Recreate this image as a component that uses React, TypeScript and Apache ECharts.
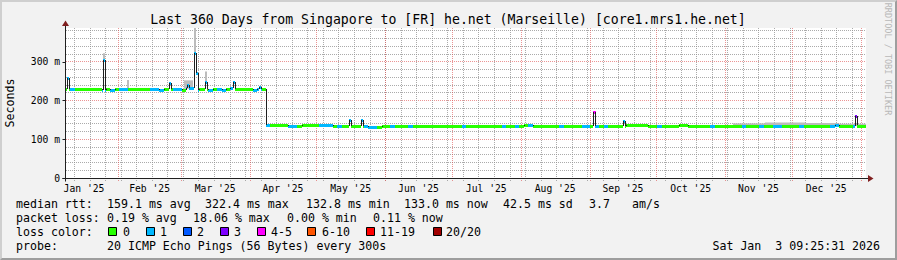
import React, { useEffect, useRef } from 'react';
import * as echarts from 'echarts';

// ---- time frame (days since 2025-01-01 00:00) ----
const START_DAY = 7.39;
const END_DAY = 367.39;
const STEP_DAYS = 2;
const Y_MAX = 387;
const SPIKE_W = 0.9;

// ---- median rtt (ms), one value per 2-day step ----
const medianMs = [
  230, 229, 230, 230, 230, 230, 230, 230, 226, 230,
  228, 230, 230, 230, 230, 230, 230, 230, 230, 230,
  230, 226, 230, 230, 230, 230, 228, 232, 232, 226,
  230, 230, 228, 230, 230, 226, 230, 232, 230, 230,
  230, 230, 226, 230, 230, 136, 137, 137, 137, 137,
  134, 134, 134, 136, 136, 138, 138, 138, 138, 138,
  135, 133, 134, 134, 134, 134, 134, 134, 132, 132,
  132, 134, 134, 134, 134, 134, 134, 134, 133, 133,
  133, 135, 135, 135, 135, 135, 135, 135, 135, 133,
  134, 133, 134, 133, 134, 134, 134, 134, 134, 134,
  134, 134, 135, 136, 136, 134, 134, 134, 134, 134,
  134, 134, 134, 134, 134, 134, 134, 134, 134, 134,
  134, 133, 133, 133, 133, 134, 136, 136, 136, 136,
  136, 135, 134, 133, 133, 133, 133, 134, 138, 137,
  134, 133, 133, 133, 134, 133, 133, 133, 133, 134,
  134, 134, 134, 134, 133, 134, 134, 134, 134, 134,
  134, 134, 133, 134, 134, 134, 134, 133, 134, 135,
  134, 134, 134, 136, 134, 134, 134, 133, 133, 133,
];

// ---- packet loss class per step (0 = 0 lost, 1 = 1 lost, ...) ----
const lossClass = [
  0, 1, 0, 0, 0, 0, 0, 0, 1, 0,
  1, 0, 1, 1, 0, 0, 0, 0, 0, 1,
  1, 1, 0, 0, 1, 1, 0, 1, 1, 1,
  0, 0, 1, 0, 1, 1, 0, 1, 0, 0,
  0, 0, 1, 1, 0, 1, 0, 0, 0, 0,
  1, 1, 0, 0, 0, 0, 0, 1, 1, 1,
  0, 1, 0, 0, 0, 0, 0, 1, 1, 1,
  0, 0, 0, 1, 0, 0, 0, 1, 0, 0,
  0, 0, 0, 0, 0, 0, 0, 0, 0, 1,
  0, 0, 0, 0, 0, 0, 0, 0, 1, 0,
  0, 1, 0, 0, 1, 0, 0, 0, 0, 0,
  0, 1, 0, 0, 0, 0, 1, 1, 0, 1,
  0, 1, 0, 0, 0, 0, 0, 0, 0, 0,
  0, 0, 0, 1, 0, 0, 0, 0, 0, 0,
  0, 0, 0, 0, 0, 1, 0, 0, 0, 0,
  0, 0, 1, 0, 0, 0, 1, 0, 0, 1,
  1, 0, 0, 0, 0, 1, 0, 0, 0, 0,
  0, 0, 1, 1, 0, 0, 0, 1, 0, 0,
];

// ---- short median spikes ----
const spikeDays = [8.5, 24.4, 54.2, 62.2, 65.6, 66.5, 70.2, 82.8, 94.7, 135.0, 140.6, 245.2, 258.7, 362.9];
const spikeMs = [257, 305, 244, 240, 322.4, 272, 248, 247, 236, 150, 150, 170, 146, 161];
const spikeLoss = [1, 1, 1, 1, 1, 1, 1, 1, 1, 1, 1, 4, 1, 3];

// ---- smoke (ping spread) blocks ----
const smokeFrom = [23.95, 34.7, 60.5, 65.15, 69.75, 307.6, 322, 340, 355];
const smokeTo = [24.85, 35.7, 64.5, 66.05, 70.65, 322, 340, 355, 367.39];
const smokeLow = [305, 230, 230, 322, 248, 134, 134, 134, 134];
const smokeHigh = [322, 253, 252, 387, 275, 141, 143, 142, 140];

// ---- axes ----
const monthStarts = [0, 31, 59, 90, 120, 151, 181, 212, 243, 273, 304, 334, 365];
const monthLabels = ["Jan '25", "Feb '25", "Mar '25", "Apr '25", "May '25", "Jun '25", "Jul '25", "Aug '25", "Sep '25", "Oct '25", "Nov '25", "Dec '25"];
const firstWeekDay = 11; // Sunday 2025-01-12
const yTicks = [0, 100, 200, 300];

// ---- legend texts ----
const lossLegend = ['0', '1', '2', '3', '4-5', '6-10', '11-19', '20/20'];
const titleText = 'Last 360 Days from Singapore to [FR] he.net (Marseille) [core1.mrs1.he.net]';
const rttLine = ['median rtt:', '159.1 ms avg', '322.4 ms max', '132.8 ms min', '133.0 ms now', '42.5 ms sd', '3.7', 'am/s'];
const lossLine = ['packet loss:', '0.19 % avg', '18.06 % max', '0.00 % min', '0.11 % now'];
const probeLine = ['probe:', '20 ICMP Echo Pings (56 Bytes) every 300s'];
const dateText = 'Sat Jan  3 09:25:31 2026';

// ---- styles ----
const LOSS_COLORS = ['#26ff00', '#00b8ff', '#0059ff', '#7e00ff', '#ff00ff', '#ff5500', '#ff0000', '#a10000'];
const MONO = '"DejaVu Sans Mono", monospace';
const AXIS = '#1f1f1f';
const ARROW = '#801f1f';
const GRID = 'rgba(143,143,143,0.75)';
const MGRID = 'rgba(222,79,79,0.6)';
const SMOKE = '#bcbcbc';

const rttX = [16, 107, 205, 306, 404, 503, 589, 632];
const lossX = [16, 107, 193, 287, 373];
const probeX = [16, 107];
const boxX = [108, 146, 183, 220, 257, 307, 366, 433];
const boxLabelX = [123, 160, 197, 234, 271, 322, 380, 446];

function buildPieces(): number[][] {
  const sp = spikeDays.map((d, k) => ({ s: d - SPIKE_W / 2, e: d + SPIKE_W / 2, v: spikeMs[k], l: spikeLoss[k] }));
  const raw: number[][] = [];
  medianMs.forEach((v, i) => {
    const s0 = START_DAY + i * STEP_DAYS;
    const e0 = Math.min(s0 + STEP_DAYS, END_DAY);
    let cur = s0;
    for (const p of sp) {
      if (p.e <= s0 || p.s >= e0) continue;
      const a = Math.max(p.s, s0);
      const b = Math.min(p.e, e0);
      if (a > cur) raw.push([cur, a, v, lossClass[i]]);
      raw.push([a, b, p.v, p.l]);
      cur = Math.max(cur, b);
    }
    if (cur < e0) raw.push([cur, e0, v, lossClass[i]]);
  });
  return raw.map((r, k) => [r[0], r[1], r[2], r[3], k > 0 ? raw[k - 1][2] : r[2]]);
}

function txt(text: string, x: number, y: number, size: number, align = 'left', color = '#000', rotation = 0) {
  return {
    type: 'text',
    x,
    y,
    rotation,
    silent: true,
    style: {
      text,
      fill: color,
      font: `${size}px ${MONO}`,
      textAlign: align,
      textVerticalAlign: 'middle',
      align,
      verticalAlign: 'middle',
    },
  };
}

function buildOption() {
  const pieces = buildPieces();
  const gridLines: number[][] = [];
  for (let d = firstWeekDay; d < END_DAY; d += 7) gridLines.push([d, 0, 0]);
  monthStarts.forEach((d) => {
    if (d > START_DAY && d < END_DAY) gridLines.push([d, 0, 1]);
  });
  const monthMids = monthLabels.map((_, i) => [(monthStarts[i] + monthStarts[i + 1]) / 2, 0, i]);
  const smoke = smokeFrom.map((f, i) => [f, smokeTo[i], smokeLow[i], smokeHigh[i]]);

  const graphic: any[] = [];
  graphic.push(txt(titleText, 448, 19, 13.2, 'center'));
  graphic.push(txt('Seconds', 10, 103, 11.6, 'center', '#000', Math.PI / 2));
  graphic.push(txt('RRDTOOL / TOBI OETIKER', 887.5, 59, 8.5, 'center', '#b8b8b8', -Math.PI / 2));
  rttLine.forEach((t, i) => graphic.push(txt(t, rttX[i], 204, 11.6)));
  lossLine.forEach((t, i) => graphic.push(txt(t, lossX[i], 218, 11.6)));
  graphic.push(txt('loss color:', 16, 232, 11.6));
  lossLegend.forEach((t, i) => {
    graphic.push({
      type: 'rect',
      silent: true,
      shape: { x: boxX[i] + 0.5, y: 227.5, width: 8, height: 8 },
      style: { fill: LOSS_COLORS[i], stroke: '#000', lineWidth: 1 },
    });
    graphic.push(txt(t, boxLabelX[i], 232, 11.6));
  });
  probeLine.forEach((t, i) => graphic.push(txt(t, probeX[i], 246, 11.6)));
  graphic.push(txt(dateText, 880, 246, 11.6, 'right'));

  return {
    animation: false,
    backgroundColor: '#f2f2f2',
    grid: { left: 66, right: 31, top: 28, bottom: 82, show: true, backgroundColor: '#ffffff', borderWidth: 0 },
    xAxis: {
      type: 'value',
      min: START_DAY,
      max: END_DAY,
      axisLine: { show: false },
      axisTick: { show: false },
      axisLabel: { show: false },
      splitLine: { show: false },
    },
    yAxis: {
      type: 'value',
      min: 0,
      max: Y_MAX,
      interval: 100,
      axisLine: { show: false },
      axisTick: { show: false },
      axisLabel: {
        formatter: (v: number) => (v === 0 ? '0' : `${v} m`),
        fontFamily: MONO,
        fontSize: 9.7,
        color: '#000',
        margin: 6,
        showMaxLabel: false,
      },
      splitLine: { show: true, showMinLine: false, showMaxLine: false, lineStyle: { color: MGRID, type: [1, 1], width: 1 } },
      minorTick: { show: false, splitNumber: 5 },
      minorSplitLine: { show: true, lineStyle: { color: GRID, type: [1, 1], width: 1 } },
    },
    graphic,
    series: [
      {
        type: 'custom',
        name: 'grid',
        silent: true,
        clip: false,
        data: gridLines,
        encode: { x: 0, y: 1 },
        renderItem: (_p: any, api: any) => {
          const d = api.value(0);
          const kind = api.value(2);
          const top = api.coord([d, Y_MAX]);
          const bot = api.coord([d, 0]);
          const x = Math.round(top[0]) + 0.5;
          return {
            type: 'line',
            shape: { x1: x, y1: top[1], x2: x, y2: bot[1] + 3 },
            style: { stroke: kind ? MGRID : GRID, lineWidth: 1, lineDash: [1, 1] },
          };
        },
      },
      {
        type: 'custom',
        name: 'smoke',
        silent: true,
        clip: true,
        data: smoke,
        encode: { x: [0, 1], y: [2, 3] },
        renderItem: (_p: any, api: any) => {
          const a = api.coord([api.value(0), api.value(3)]);
          const b = api.coord([api.value(1), api.value(2)]);
          const x0 = Math.round(a[0]);
          const x1 = Math.round(b[0]);
          return {
            type: 'rect',
            shape: { x: x0, y: a[1], width: Math.max(1, x1 - x0), height: b[1] - a[1] },
            style: { fill: SMOKE },
          };
        },
      },
      {
        type: 'custom',
        name: 'median',
        silent: true,
        clip: true,
        data: pieces,
        encode: { x: [0, 1], y: 2 },
        renderItem: (_p: any, api: any) => {
          const x0 = api.value(0);
          const x1 = api.value(1);
          const v = api.value(2);
          const l = api.value(3);
          const pv = api.value(4);
          const a = api.coord([x0, v]);
          const b = api.coord([x1, v]);
          const p = api.coord([x0, pv]);
          const xs = Math.round(a[0]);
          const xe = Math.round(b[0]);
          const yc = Math.round(a[1]);
          const children: any[] = [
            {
              type: 'rect',
              shape: { x: xs, y: yc - 1, width: Math.max(1, xe - xs), height: 3 },
              style: { fill: LOSS_COLORS[l] },
            },
          ];
          if (pv !== v) {
            const yp = Math.round(p[1]);
            children.push({
              type: 'line',
              shape: { x1: xs + 0.5, y1: yp, x2: xs + 0.5, y2: yc },
              style: { stroke: AXIS, lineWidth: 1 },
            });
          }
          return { type: 'group', children };
        },
      },
      {
        type: 'custom',
        name: 'months',
        silent: true,
        clip: false,
        data: monthMids,
        encode: { x: 0, y: 1 },
        renderItem: (_p: any, api: any) => {
          const c = api.coord([api.value(0), 0]);
          const label = monthLabels[api.value(2)];
          return {
            type: 'text',
            x: c[0],
            y: c[1] + 10,
            style: {
              text: label,
              fill: '#000',
              font: `9.7px ${MONO}`,
              textAlign: 'center',
              textVerticalAlign: 'middle',
              align: 'center',
              verticalAlign: 'middle',
            },
          };
        },
      },
      {
        type: 'custom',
        name: 'axes',
        silent: true,
        clip: false,
        data: [[START_DAY, 0]],
        encode: { x: 0, y: 1 },
        renderItem: (_p: any, api: any) => {
          const o = api.coord([START_DAY, 0]);
          const xe = api.coord([END_DAY, 0])[0];
          const yt = api.coord([START_DAY, Y_MAX])[1];
          const ox = Math.round(o[0]) - 0.5;
          const oy = Math.round(o[1]) + 0.5;
          const children: any[] = [
            { type: 'line', shape: { x1: ox - 3, y1: oy, x2: xe + 3, y2: oy }, style: { stroke: AXIS, lineWidth: 1 } },
            { type: 'line', shape: { x1: ox, y1: oy + 3, x2: ox, y2: yt - 3 }, style: { stroke: AXIS, lineWidth: 1 } },
            {
              type: 'polygon',
              shape: { points: [[xe + 2, oy - 3.5], [xe + 2, oy + 3.5], [xe + 7.5, oy]] },
              style: { fill: ARROW },
            },
            {
              type: 'polygon',
              shape: { points: [[ox - 3.5, yt - 2], [ox + 3.5, yt - 2], [ox, yt - 7.5]] },
              style: { fill: ARROW },
            },
          ];
          yTicks.forEach((v) => {
            const y = Math.round(api.coord([START_DAY, v])[1]) + 0.5;
            children.push({ type: 'line', shape: { x1: ox - 3, y1: y, x2: ox, y2: y }, style: { stroke: AXIS, lineWidth: 1 } });
          });
          return { type: 'group', children };
        },
      },
    ],
  };
}

export default function App() {
  const ref = useRef<HTMLDivElement>(null);
  useEffect(() => {
    if (!ref.current) return;
    const chart = echarts.init(ref.current, null, { renderer: 'svg' });
    chart.setOption(buildOption() as any);
    return () => chart.dispose();
  }, []);
  return (
    <div style={{ position: 'fixed', left: 0, top: 0, width: 897, height: 260, background: '#f2f2f2' }}>
      <div ref={ref} style={{ width: 897, height: 260 }} />
      <div
        style={{
          position: 'absolute',
          left: 0,
          top: 0,
          width: 897,
          height: 260,
          boxSizing: 'border-box',
          borderTop: '2px solid #cfcfcf',
          borderLeft: '2px solid #cfcfcf',
          borderBottom: '2px solid #9e9e9e',
          borderRight: '2px solid #9e9e9e',
          pointerEvents: 'none',
        }}
      />
    </div>
  );
}
